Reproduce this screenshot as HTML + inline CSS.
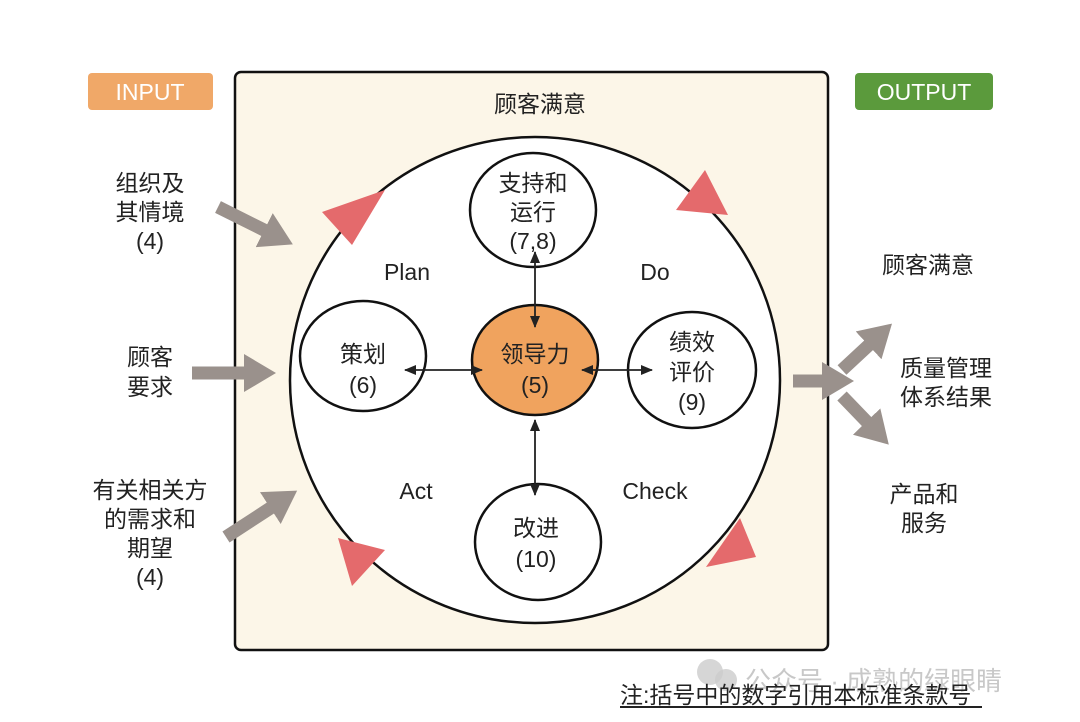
<!DOCTYPE html>
<html><head><meta charset="utf-8"><style>
html,body{margin:0;padding:0;background:#fff;}
svg{display:block}
text{font-family:"Liberation Sans","Noto Sans CJK SC",sans-serif;fill:#222;}
</style></head><body>
<svg width="1080" height="722" viewBox="0 0 1080 722" xmlns="http://www.w3.org/2000/svg">
<defs>
<marker id="g" markerUnits="userSpaceOnUse" markerWidth="34" markerHeight="38" refX="2" refY="19" orient="auto">
<path d="M0,0 L32,19 L0,38 Z" fill="#9a918c"/></marker>
<marker id="b" markerUnits="userSpaceOnUse" markerWidth="12" markerHeight="10" refX="11" refY="5" orient="auto">
<path d="M0,0 L12,5 L0,10 Z" fill="#222"/></marker>
<marker id="bs" markerUnits="userSpaceOnUse" markerWidth="12" markerHeight="10" refX="1" refY="5" orient="auto">
<path d="M12,0 L0,5 L12,10 Z" fill="#222"/></marker>
</defs>
<rect x="235" y="72" width="593" height="578" rx="6" fill="#fcf6e8" stroke="#111" stroke-width="2.5"/>
<text x="540" y="112" font-size="23" text-anchor="middle">顾客满意</text>
<ellipse cx="535" cy="380" rx="245" ry="243" fill="#fff" stroke="#111" stroke-width="2.5"/>
<polygon points="322,212 385,190 352,245" fill="#e46a6c"/>
<polygon points="676,210 705,170 728,215" fill="#e46a6c"/>
<polygon points="338,538 385,550 352,586" fill="#e46a6c"/>
<polygon points="740,518 756,557 706,567" fill="#e46a6c"/>
<ellipse cx="533" cy="210" rx="63" ry="57" fill="#fff" stroke="#111" stroke-width="2.5"/>
<ellipse cx="363" cy="356" rx="63" ry="55" fill="#fff" stroke="#111" stroke-width="2.5"/>
<ellipse cx="535" cy="360" rx="63" ry="55" fill="#f0a35e" stroke="#111" stroke-width="2.5"/>
<ellipse cx="692" cy="370" rx="64" ry="58" fill="#fff" stroke="#111" stroke-width="2.5"/>
<ellipse cx="538" cy="542" rx="63" ry="58" fill="#fff" stroke="#111" stroke-width="2.5"/>
<line x1="535" y1="252" x2="535" y2="327" stroke="#222" stroke-width="1.8" marker-start="url(#bs)" marker-end="url(#b)"/>
<line x1="535" y1="420" x2="535" y2="495" stroke="#222" stroke-width="1.8" marker-start="url(#bs)" marker-end="url(#b)"/>
<line x1="405" y1="370" x2="482" y2="370" stroke="#222" stroke-width="1.8" marker-start="url(#bs)" marker-end="url(#b)"/>
<line x1="582" y1="370" x2="652" y2="370" stroke="#222" stroke-width="1.8" marker-start="url(#bs)" marker-end="url(#b)"/>
<g font-size="23" text-anchor="middle">
<text x="533" y="191">支持和</text><text x="533" y="220">运行</text><text x="533" y="249">(7,8)</text>
<text x="363" y="362">策划</text><text x="363" y="393">(6)</text>
<text x="535" y="362">领导力</text><text x="535" y="393">(5)</text>
<text x="692" y="350">绩效</text><text x="692" y="380">评价</text><text x="692" y="410">(9)</text>
<text x="536" y="536">改进</text><text x="536" y="567">(10)</text>
<text x="407" y="280">Plan</text><text x="655" y="280">Do</text>
<text x="416" y="499">Act</text><text x="655" y="499">Check</text>
</g>
<rect x="88" y="73" width="125" height="37" rx="4" fill="#f0a868"/>
<text x="150" y="100" font-size="23" text-anchor="middle" style="fill:#fff">INPUT</text>
<rect x="855" y="73" width="138" height="37" rx="4" fill="#5b9a3c"/>
<text x="924" y="100" font-size="23" text-anchor="middle" style="fill:#fff">OUTPUT</text>
<g font-size="23" text-anchor="middle">
<text x="150" y="191">组织及</text><text x="150" y="220">其情境</text><text x="150" y="249">(4)</text>
<text x="150" y="365">顾客</text><text x="150" y="395">要求</text>
<text x="150" y="498">有关相关方</text><text x="150" y="527">的需求和</text><text x="150" y="556">期望</text><text x="150" y="585">(4)</text>
<text x="928" y="273">顾客满意</text>
<text x="946" y="376">质量管理</text><text x="946" y="405">体系结果</text>
<text x="924" y="502">产品和</text><text x="924" y="531">服务</text>
</g>
<g stroke="#9a918c" stroke-width="13" fill="none">
<line x1="218" y1="207" x2="266" y2="231" marker-end="url(#g)"/>
<line x1="192" y1="373" x2="246" y2="373" marker-end="url(#g)"/>
<line x1="226" y1="537" x2="272" y2="507" marker-end="url(#g)"/>
<line x1="793" y1="381" x2="824" y2="381" marker-end="url(#g)"/>
<line x1="842" y1="370" x2="870" y2="344" marker-end="url(#g)"/>
<line x1="842" y1="396" x2="868" y2="423" marker-end="url(#g)"/>
</g>
<circle cx="710" cy="672" r="13" fill="#ccc" opacity="0.8"/>
<circle cx="726" cy="680" r="11" fill="#ccc" opacity="0.8"/>
<text x="745" y="690" font-size="26" style="fill:#c8c8c8">公众号 · 成熟的绿眼睛</text>
<text x="620" y="703" font-size="23">注:括号中的数字引用本标准条款号</text>
<line x1="620" y1="707" x2="982" y2="707" stroke="#222" stroke-width="2"/>
</svg>
</body></html>
